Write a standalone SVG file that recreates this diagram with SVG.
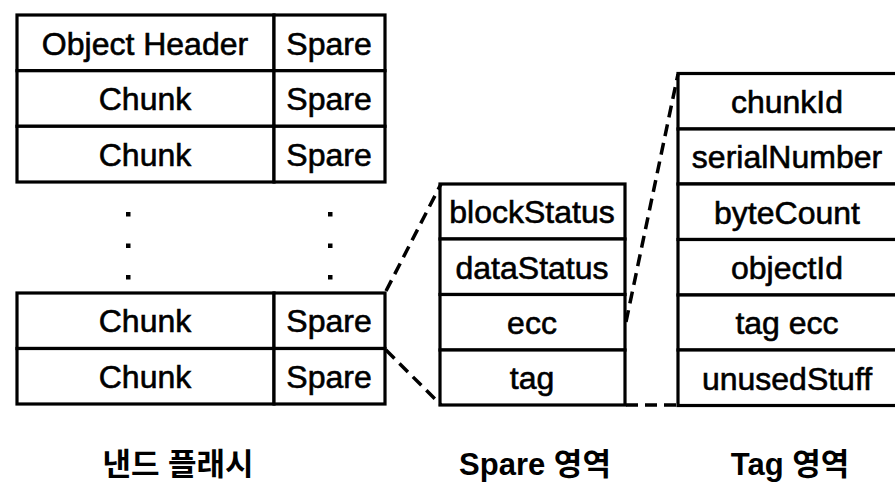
<svg xmlns="http://www.w3.org/2000/svg" width="895" height="484" viewBox="0 0 895 484">
<style>
.cell{fill:#fff;stroke:#000;stroke-width:3.2}
.t{font-family:"Liberation Sans",Arial,sans-serif;font-size:32px;fill:#000;stroke:#000;stroke-width:0.6;text-anchor:middle}
.lbl{font-family:"Liberation Sans","Noto Sans CJK KR",sans-serif;font-size:31px;font-weight:bold;fill:#000;text-anchor:middle}
.dash{fill:none;stroke:#000;stroke-width:3.5;stroke-dasharray:12 7}
.dot{fill:#000}
</style>
<rect width="895" height="484" fill="#fff"/>
<g id="nand-flash">
  <g id="row-header">
    <rect class="cell" x="17" y="15" width="257" height="55.7"/>
    <rect class="cell" x="274" y="15" width="111" height="55.7"/>
    <text class="t" x="145" y="54.5">Object Header</text>
    <text class="t" x="329" y="54.5">Spare</text>
  </g>
  <g id="row-chunk1">
    <rect class="cell" x="17" y="70.7" width="257" height="55.6"/>
    <rect class="cell" x="274" y="70.7" width="111" height="55.6"/>
    <text class="t" x="145" y="110">Chunk</text>
    <text class="t" x="329" y="110">Spare</text>
  </g>
  <g id="row-chunk2">
    <rect class="cell" x="17" y="126.3" width="257" height="55.7"/>
    <rect class="cell" x="274" y="126.3" width="111" height="55.7"/>
    <text class="t" x="145" y="165.5">Chunk</text>
    <text class="t" x="329" y="165.5">Spare</text>
  </g>
  <g id="dots">
    <rect class="dot" x="126" y="212" width="4.5" height="4.5"/>
    <rect class="dot" x="126" y="243.5" width="4.5" height="4.5"/>
    <rect class="dot" x="126" y="275" width="4.5" height="4.5"/>
    <rect class="dot" x="328" y="212" width="4.5" height="4.5"/>
    <rect class="dot" x="328" y="243.5" width="4.5" height="4.5"/>
    <rect class="dot" x="328" y="275" width="4.5" height="4.5"/>
  </g>
  <g id="row-chunk3">
    <rect class="cell" x="17" y="293" width="257" height="55.5"/>
    <rect class="cell" x="274" y="293" width="111" height="55.5"/>
    <text class="t" x="145" y="332">Chunk</text>
    <text class="t" x="329" y="332">Spare</text>
  </g>
  <g id="row-chunk4">
    <rect class="cell" x="17" y="348.5" width="257" height="55.5"/>
    <rect class="cell" x="274" y="348.5" width="111" height="55.5"/>
    <text class="t" x="145" y="387.5">Chunk</text>
    <text class="t" x="329" y="387.5">Spare</text>
  </g>
</g>
<g id="spare-area">
  <rect class="cell" x="440" y="184" width="185" height="55"/>
  <rect class="cell" x="440" y="239" width="185" height="55.5"/>
  <rect class="cell" x="440" y="294.5" width="185" height="55.5"/>
  <rect class="cell" x="440" y="350" width="185" height="55"/>
  <text class="t" x="532" y="223">blockStatus</text>
  <text class="t" x="532" y="278.5">dataStatus</text>
  <text class="t" x="532" y="334">ecc</text>
  <text class="t" x="532" y="389">tag</text>
</g>
<g id="tag-area">
  <rect class="cell" x="678" y="73.5" width="220" height="55.5"/>
  <rect class="cell" x="678" y="129" width="220" height="55"/>
  <rect class="cell" x="678" y="184" width="220" height="55.5"/>
  <rect class="cell" x="678" y="239.5" width="220" height="55.5"/>
  <rect class="cell" x="678" y="295" width="220" height="55"/>
  <rect class="cell" x="678" y="350" width="220" height="55.5"/>
  <text class="t" x="787" y="113">chunkId</text>
  <text class="t" x="787" y="168">serialNumber</text>
  <text class="t" x="787" y="223.5">byteCount</text>
  <text class="t" x="787" y="279">objectId</text>
  <text class="t" x="787" y="334">tag ecc</text>
  <text class="t" x="787" y="389.5">unusedStuff</text>
</g>
<g id="connectors">
  <line class="dash" x1="386" y1="291" x2="441" y2="184"/>
  <line class="dash" x1="386" y1="350" x2="441" y2="405"/>
  <line class="dash" x1="626" y1="322" x2="678" y2="74"/>
  <line class="dash" x1="626" y1="405" x2="678" y2="405"/>
</g>
<g id="labels">
  <text class="lbl" x="178" y="475">낸드 플래시</text>
  <text class="lbl" x="535" y="475">Spare 영역</text>
  <text class="lbl" x="790" y="475">Tag 영역</text>
</g>
</svg>
